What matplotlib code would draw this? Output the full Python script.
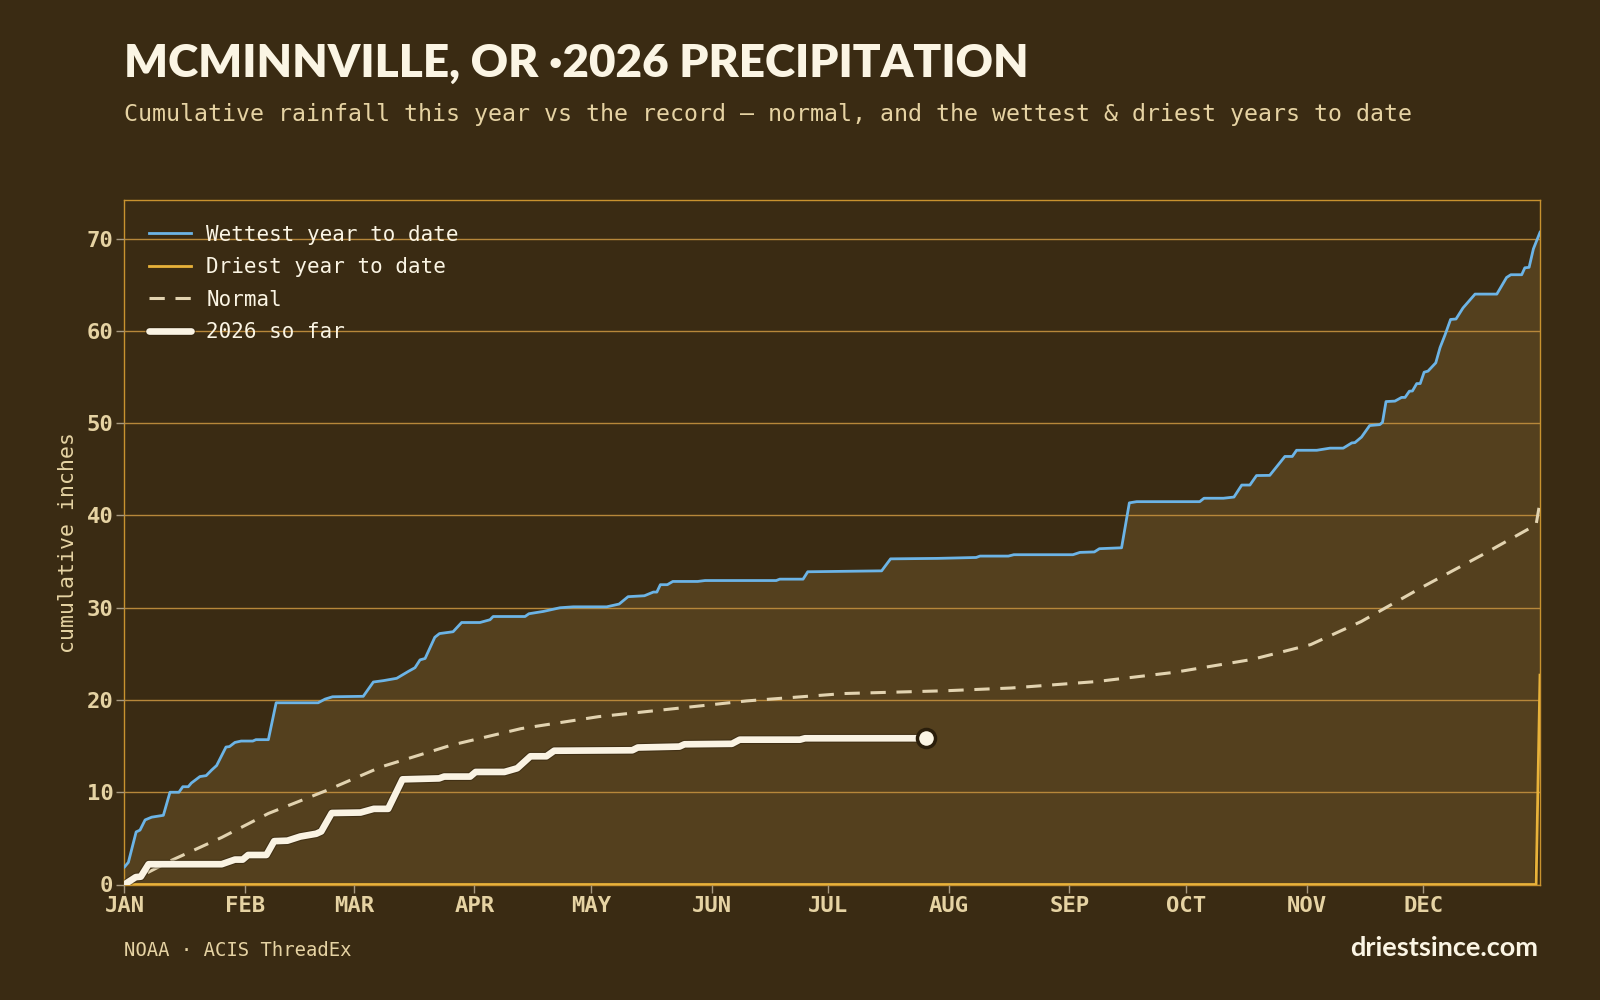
import matplotlib
matplotlib.use("Agg")
import matplotlib.pyplot as plt
import matplotlib.patheffects as pe
import numpy as np

# ---------------- data (day-of-year index, cumulative inches) ----------------
month_labels = ["JAN", "FEB", "MAR", "APR", "MAY", "JUN", "JUL", "AUG", "SEP", "OCT", "NOV", "DEC"]
month_starts = [0, 31, 59, 90, 120, 151, 181, 212, 243, 273, 304, 334]

wet_days = [0, 1, 3, 4, 5.3, 7, 10, 11.7, 14, 15, 16.4, 17.2, 19.4, 21, 22.4, 23.7, 26.1, 27, 28.4, 30,
            33, 33.8, 37, 39, 49.8, 51.6, 53.5, 61.4, 64, 66.6, 70, 73, 74.7, 76, 77.3, 79.8, 81, 84.5,
            86.7, 91.4, 94, 94.8, 103, 104, 107.7, 112, 115.4, 124, 127.2, 129.5, 133.7, 136, 136.9,
            137.8, 139.6, 141, 147.4, 149.3, 167.6, 168.5, 174.5, 175.7, 194.7, 197, 209, 219, 220,
            227.3, 228.7, 243.9, 245.7, 249.4, 250.7, 256.4, 258.4, 260.3, 276.5, 277.6, 282.6, 285.3,
            287.3, 289.4, 291.1, 294.5, 298.4, 300.3, 301.4, 306.6, 310, 313.4, 315.6, 316.4, 318.1,
            320.2, 322.8, 323.5, 324.4, 326.7, 328.4, 329.3, 330.4, 331.2, 332.3, 333.2, 334.2, 335.2,
            337.2, 338.3, 339.6, 341, 342.4, 344.2, 347.3, 352.9, 355.4, 356.5, 359.3, 360.1, 361.2,
            362.3, 364]
wet_vals = [1.9, 2.4, 5.7, 5.9, 7.0, 7.3, 7.5, 10.0, 10.0, 10.6, 10.6, 11.0, 11.7, 11.8, 12.4, 12.9, 14.9,
            14.95, 15.4, 15.55, 15.55, 15.7, 15.7, 19.7, 19.7, 20.1, 20.35, 20.4, 21.95, 22.1, 22.35, 23.1,
            23.5, 24.35, 24.5, 26.8, 27.2, 27.4, 28.4, 28.4, 28.7, 29.05, 29.05, 29.35, 29.6, 30.0, 30.1,
            30.1, 30.4, 31.2, 31.3, 31.7, 31.7, 32.5, 32.5, 32.85, 32.85, 32.95, 32.95, 33.1, 33.1, 33.9,
            34.0, 35.3, 35.35, 35.45, 35.6, 35.6, 35.75, 35.75, 36.0, 36.05, 36.4, 36.5, 41.37, 41.5, 41.5,
            41.87, 41.87, 42.0, 43.3, 43.3, 44.33, 44.35, 46.4, 46.4, 47.07, 47.07, 47.3, 47.3, 47.87, 47.9,
            48.5, 49.75, 49.85, 50.1, 52.35, 52.4, 52.8, 52.8, 53.47, 53.5, 54.3, 54.3, 55.53, 55.65, 56.55,
            58.2, 59.6, 61.25, 61.3, 62.5, 64.0, 64.0, 65.8, 66.1, 66.1, 66.85, 66.9, 68.9, 70.7]

dry_days = [0, 363, 364]
dry_vals = [0.0, 0.0, 22.7]

normal_days = [0, 6, 12, 25, 37, 52, 66, 84, 102, 122, 140, 160, 185, 211, 228, 250, 270, 290, 305, 318,
               334, 349, 363, 364]
normal_vals = [0.0, 1.3, 2.6, 5.1, 7.7, 10.2, 12.75, 15.1, 16.9, 18.2, 19.0, 19.9, 20.7, 21.0, 21.3, 22.0,
               23.0, 24.4, 26.0, 28.5, 32.3, 35.7, 39.0, 41.5]

ytd_days = [0, 2.9, 4.2, 6.2, 25, 28.4, 30.4, 31.8, 36.5, 38.5, 41.9, 45.2, 49.3, 50.6, 53.3, 60.7, 64.1,
            67.8, 71.5, 80.9, 82.2, 88.9, 90.3, 97.7, 101, 104.4, 108.5, 110.5, 130.6, 132, 142.7, 144,
            156.2, 158.2, 173.7, 175, 206]
ytd_vals = [0.0, 0.8, 0.85, 2.2, 2.2, 2.7, 2.7, 3.2, 3.2, 4.7, 4.75, 5.2, 5.5, 5.75, 7.75, 7.8, 8.2, 8.2,
            11.4, 11.5, 11.7, 11.7, 12.2, 12.2, 12.6, 13.9, 13.9, 14.5, 14.55, 14.85, 14.95, 15.2, 15.25,
            15.7, 15.7, 15.85, 15.85]

title = "MCMINNVILLE, OR \u00b72026 PRECIPITATION"
subtitle = "Cumulative rainfall this year vs the record \u2014 normal, and the wettest & driest years to date"

# ---------------- style ----------------
BG = "#3a2b13"
FILL = "#54401e"
GRID = "#b7873a"
SPINE = "#c8922f"
WET = "#6cb4e6"
DRY = "#e8b23a"
NORM = "#e2d3b0"
YTD = "#faf3e3"
TAN = "#e6d3a3"
CREAM = "#fbf5e4"

fig = plt.figure(figsize=(16, 10), dpi=100, facecolor=BG)
ax = fig.add_axes([0.0778, 0.1155, 0.8847, 0.6845])
ax.set_facecolor(BG)

dry_on_wet = np.interp(wet_days, dry_days, dry_vals)
ax.fill_between(wet_days, dry_on_wet, wet_vals, color=FILL, lw=0, zorder=1)

ax.plot(wet_days, wet_vals, color=WET, lw=2.0, label="Wettest year to date", zorder=4)
ax.plot(dry_days, dry_vals, color=DRY, lw=2.0, label="Driest year to date", zorder=4)
ax.plot(normal_days, normal_vals, color=NORM, lw=2.2, ls=(0, (5, 3.5)), label="Normal", zorder=4)
ax.plot(ytd_days, ytd_vals, color=YTD, lw=4.8, solid_capstyle="round", solid_joinstyle="round",
        label="2026 so far", zorder=5,
        path_effects=[pe.Stroke(linewidth=6.4, foreground="#2a1e0b", alpha=0.45), pe.Normal()])
ax.plot([ytd_days[-1]], [ytd_vals[-1]], "o", ms=13, mfc=CREAM, mec="#2a1e0b", mew=2.5, zorder=6)

ax.set_xlim(0, 364)
ax.set_ylim(0, 74.2)
ax.set_yticks(range(0, 71, 10))
ax.set_xticks(month_starts)
ax.set_xticklabels(month_labels)
ax.grid(axis="y", color=GRID, lw=1.0, zorder=2)
ax.set_axisbelow(False)
for s in ax.spines.values():
    s.set_color(SPINE)
    s.set_linewidth(1.0)
ax.tick_params(axis="both", colors="#a89a80", length=6, width=1, labelcolor=TAN, pad=2)
for lab in ax.get_xticklabels() + ax.get_yticklabels():
    lab.set_fontfamily("DejaVu Sans Mono")
    lab.set_fontweight("bold")
    lab.set_fontsize(16)

ax.set_ylabel("cumulative inches", family="DejaVu Sans Mono", fontsize=15.5, color=TAN, labelpad=6)

leg = ax.legend(loc="upper left", frameon=False, prop={"family": "DejaVu Sans Mono", "size": 15},
                labelcolor=CREAM, handlelength=2.0, handletextpad=0.75, labelspacing=0.6,
                borderaxespad=0.0, bbox_to_anchor=(0.0115, 0.976))

fig.text(0.0778, 0.923, title, family="Lato", fontweight="heavy", fontsize=33, color=CREAM,
         ha="left", va="baseline")
fig.text(0.0778, 0.879, subtitle, family="DejaVu Sans Mono", fontsize=16.78, color=TAN,
         ha="left", va="baseline")
fig.text(0.0778, 0.044, "NOAA \u00b7 ACIS ThreadEx", family="DejaVu Sans Mono", fontsize=13.6,
         color=TAN, ha="left", va="baseline")
fig.text(0.9615, 0.044, "driestsince.com", family="Lato", fontweight="bold", fontsize=19.5,
         color=CREAM, ha="right", va="baseline")

fig.savefig("out.png", dpi=100, facecolor=BG)
